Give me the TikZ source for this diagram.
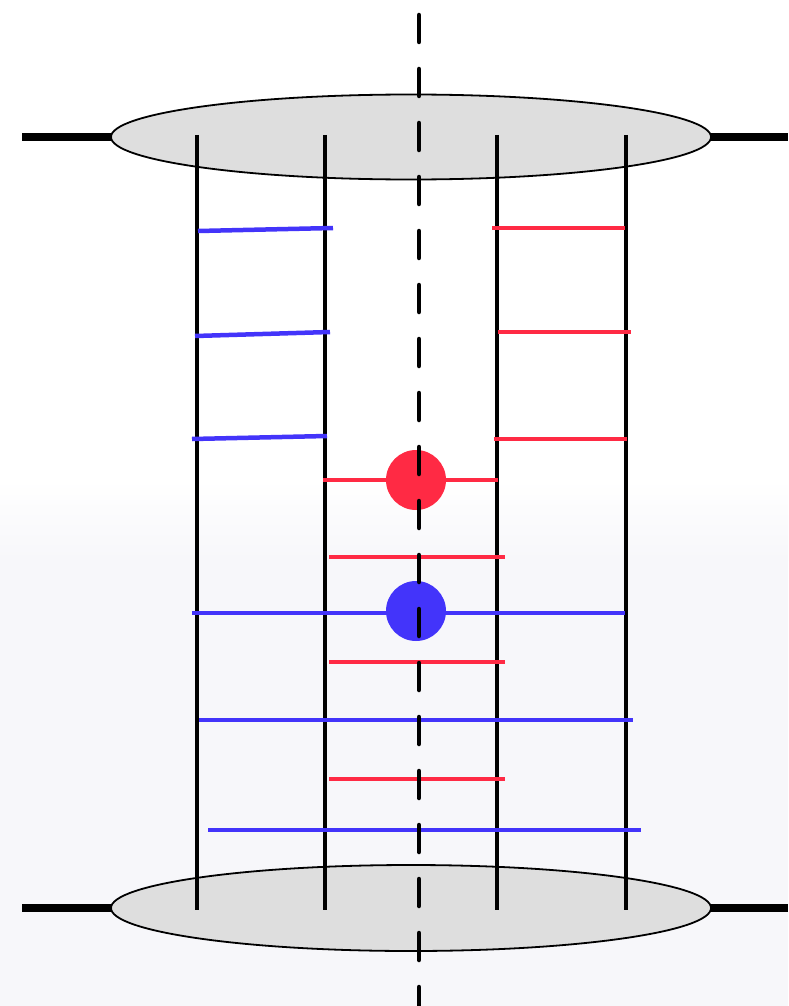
\documentclass[tikz,border=0pt]{standalone}
\definecolor{rungblue}{HTML}{4334FA}
\definecolor{rungred}{HTML}{FF2A44}
\definecolor{discgray}{HTML}{DEDEDE}
\definecolor{bglow}{HTML}{F7F7FA}
\tikzset{
  disc/.style={draw=black, line width=1.8pt, fill=discgray},
  stub/.style={line width=8pt},
  strand/.style={line width=4.6pt},
  bluerung/.style={draw=rungblue, line width=4.5pt},
  redrung/.style={draw=rungred, line width=4.5pt},
  axisline/.style={line width=4.5pt, line cap=round, dash pattern=on 27pt off 27pt},
}
\begin{document}
\begin{tikzpicture}[x=1pt,y=-1pt]
\useasboundingbox (0,0) rectangle (788,1006);
% background
\fill[white] (0,0) rectangle (788,480);
\shade[top color=white,bottom color=bglow] (0,480) rectangle (788,560);
\fill[bglow] (0,560) rectangle (788,1006);
% discs
\coordinate (tc) at (411,137);
\coordinate (bc) at (411,908);
\draw[disc] (tc) ellipse[x radius=300,y radius=42.5];
\draw[disc] (bc) ellipse[x radius=300,y radius=43];
\coordinate (tl) at (111,137); \coordinate (tr) at (711,137);
\coordinate (bl) at (111,908); \coordinate (br) at (711,908);
\coordinate (tlend) at (22,137); \coordinate (trend) at (788,137);
\coordinate (blend) at (22,908); \coordinate (brend) at (788,908);
\draw[stub] (tlend) -- (tl);
\draw[stub] (tr) -- (trend);
\draw[stub] (blend) -- (bl);
\draw[stub] (br) -- (brend);
% strands
\foreach \x/\n in {197/a,325/b,497/c,626/d}{
  \coordinate (\n top) at (\x,135);
  \coordinate (\n bot) at (\x,910);
  \draw[strand] (\n top) -- (\n bot);
}
% left blue rungs (slightly tilted)
\draw[bluerung] (198,231) -- (333,228);
\draw[bluerung] (195,336) -- (330,332);
\draw[bluerung] (192,439) -- (327,436);
% right red rungs
\draw[redrung] (492,228) -- (625,228);
\draw[redrung] (498,332) -- (631,332);
\draw[redrung] (494,439) -- (627,439);
% central rungs
\draw[redrung] (323,480) -- (498,480);
\draw[redrung] (329,557) -- (505,557);
\draw[bluerung] (192,613) -- (625,613);
\draw[redrung] (329,662) -- (505,662);
\draw[bluerung] (199,720) -- (633,720);
\draw[redrung] (329,779) -- (505,779);
\draw[bluerung] (208,830) -- (641,830);
% dots
\node[circle, fill=rungred, minimum size=60pt, inner sep=0pt] (reddot) at (416,480) {};
\node[circle, fill=rungblue, minimum size=60pt, inner sep=0pt] (bluedot) at (416,611) {};
% axis
\coordinate (axtop) at (419,15);
\coordinate (axbot) at (419,1010);
\draw[axisline] (axtop) -- (axbot);
\end{tikzpicture}
\end{document}
